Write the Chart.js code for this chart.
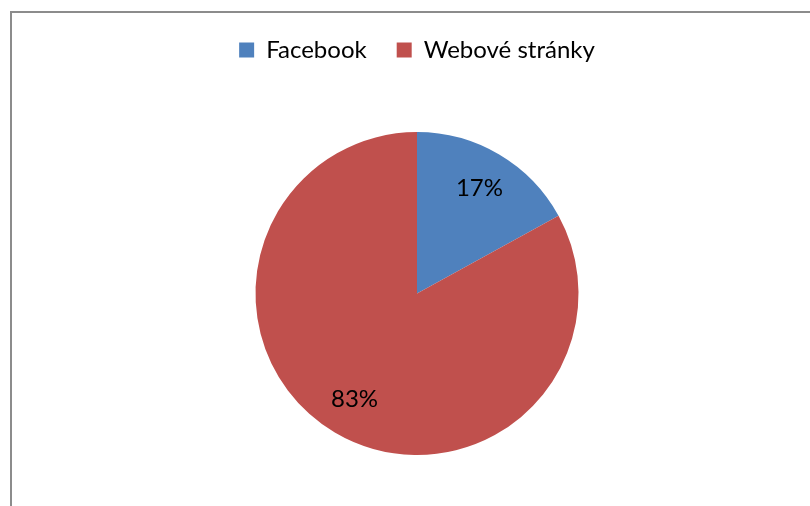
<!DOCTYPE html>
<html>
<head>
<meta charset="utf-8">
<script src="https://cdn.jsdelivr.net/npm/chart.js@4"></script>
<style>
  html, body { margin: 0; padding: 0; background: #fff; overflow: hidden; }
  #frame { position: absolute; left: 10px; top: 11px; width: 900px; height: 600px; border: 2px solid #8c8c8c; }
  #wrap { position: absolute; left: 0; top: 0; width: 810px; height: 506px; }
</style>
</head>
<body>
<div id="frame"></div>
<div id="wrap"><canvas id="pieChart"></canvas></div>
<script>
// Data
const labels = ['Facebook', 'Webové stránky'];
const values = [17, 83];
const colors = ['#4F81BD', '#C0504D'];

// leave extra room between the legend and the pie
const legendGap = {
    id: 'legendGap',
    beforeInit(chart) {
        const fit = chart.legend.fit;
        chart.legend.fit = function () {
            fit.bind(chart.legend)();
            this.height += 60;
        };
    }
};

// percent labels inside slices
const pctLabels = {
    id: 'pctLabels',
    afterDatasetsDraw(chart) {
        const ctx = chart.ctx;
        const meta = chart.getDatasetMeta(0);
        const total = values.reduce((a, b) => a + b, 0);
        ctx.save();
        ctx.font = '24px Lato';
        ctx.fillStyle = '#000';
        ctx.textAlign = 'center';
        ctx.textBaseline = 'middle';
        meta.data.forEach(function (arc, i) {
            const mid = (arc.startAngle + arc.endAngle) / 2;
            const r = arc.outerRadius * 0.76;
            const x = arc.x + Math.cos(mid) * r;
            const y = arc.y + Math.sin(mid) * r;
            ctx.fillText(Math.round(values[i] / total * 100) + '%', x, y);
        });
        ctx.restore();
    }
};

document.addEventListener('DOMContentLoaded', function () {
    new Chart(document.getElementById('pieChart'), {
        type: 'pie',
        data: {
            labels: labels,
            datasets: [{
                data: values,
                backgroundColor: colors,
                borderWidth: 0
            }]
        },
        options: {
            responsive: true,
            maintainAspectRatio: false,
            animation: false,
            layout: {
                padding: { top: 8, bottom: 51, left: 112, right: 88 }
            },
            plugins: {
                legend: {
                    position: 'top',
                    labels: {
                        boxWidth: 15,
                        boxHeight: 15,
                        padding: 30,
                        color: '#000',
                        font: { family: 'Lato', size: 24 }
                    }
                },
                tooltip: { enabled: false }
            }
        },
        plugins: [legendGap, pctLabels]
    });
});
</script>
</body>
</html>
